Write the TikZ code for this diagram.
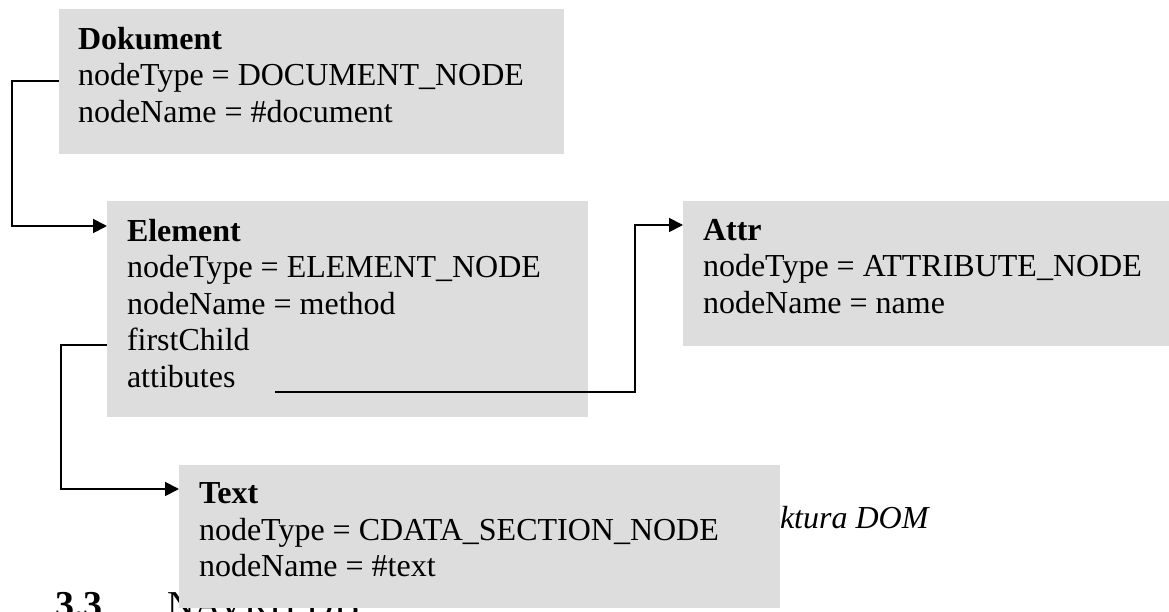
\documentclass[tikz,border=0pt]{standalone}
\usepackage{fontspec}
\setmainfont{Liberation Serif}
\usetikzlibrary{arrows.meta}
\definecolor{boxgray}{HTML}{DDDDDD}
\tikzset{
  box/.style={fill=boxgray, draw=none, inner sep=0pt, outer sep=0pt, anchor=north west},
  lbl/.style={anchor=north west, align=left, inner sep=0pt, outer sep=0pt, font=\fontsize{32}{36.5}\selectfont},
  conn/.style={line width=1.8pt, -{Triangle[length=14pt,width=14pt]}},
  bg/.style={anchor=base west, inner sep=0pt, outer sep=0pt}
}
\begin{document}
\begin{tikzpicture}[x=1pt,y=-1pt]
\useasboundingbox (0,0) rectangle (1169,612);
% background texts partly hidden by the Text box
\node[bg, font=\fontsize{32}{36.5}\selectfont\itshape] (cap) at (780,528) {ktura DOM};
\node[bg, font=\fontsize{38}{44}\selectfont\bfseries] (h33) at (55,617) {3.3};
\node[bg, font=\fontsize{38}{44}\selectfont] (hN) at (167,617) {NAVRH DB};
% boxes
\node[box, minimum width=505pt, minimum height=145pt] (dok) at (59,9) {};
\node[box, minimum width=481pt, minimum height=216pt] (ele) at (107,201) {};
\node[box, minimum width=486pt, minimum height=145pt] (att) at (683,201) {};
\node[box, minimum width=601pt, minimum height=143pt] (txt) at (179,465) {};
% labels
\node[lbl] (dokl) at (78,27) {\textbf{Dokument}\\nodeType = DOCUMENT\_NODE\\nodeName = \#document};
\node[lbl] (elel) at (127,219) {\textbf{Element}\\nodeType = ELEMENT\_NODE\\nodeName = method\\firstChild\\attibutes};
\node[lbl] (attl) at (703,219) {\textbf{Attr}\\nodeType = ATTRIBUTE\_NODE\\nodeName = name};
\node[lbl] (txtl) at (199,483) {\textbf{Text}\\nodeType = CDATA\_SECTION\_NODE\\nodeName = \#text};
% connectors
\coordinate (c1a) at (12,81);
\coordinate (c2a) at (61,345);
\coordinate (c3s) at (275,392);
\coordinate (c3a) at (635,392);
\draw[conn] (dok.west |- c1a) -- (c1a) |- (ele.west |- 0,226);
\draw[conn] (ele.west |- c2a) -- (c2a) |- (txt.west |- 0,489);
\draw[conn] (c3s) -- (c3a) |- (att.west |- 0,225);
\end{tikzpicture}
\end{document}
